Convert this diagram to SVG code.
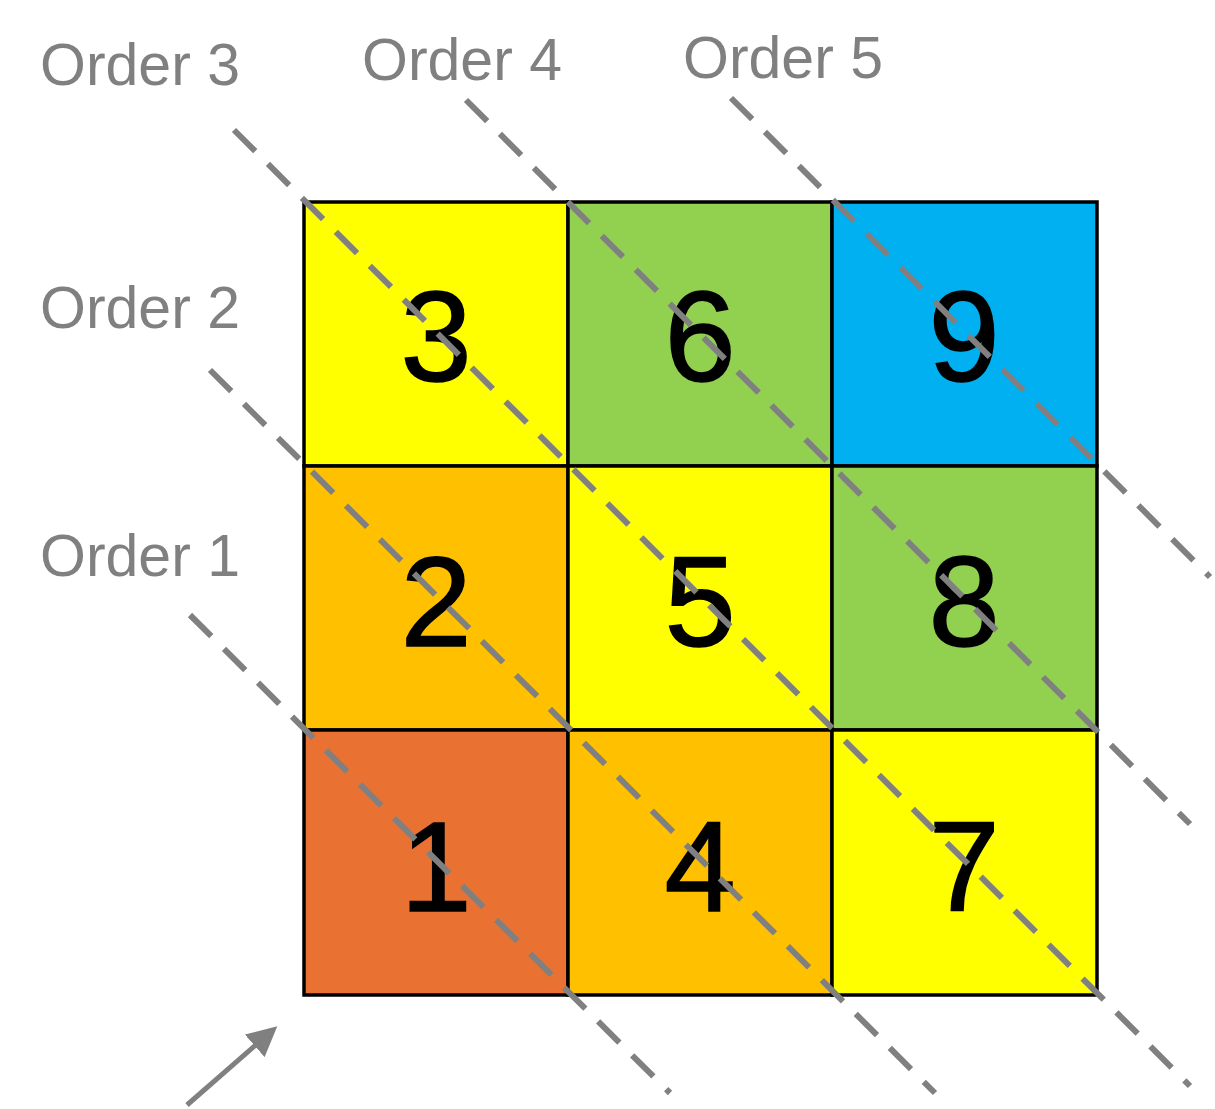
<svg xmlns="http://www.w3.org/2000/svg" width="1215" height="1109" viewBox="0 0 1215 1109">
<style>
.cell{stroke:#000;stroke-width:3.5}
.num{font-family:"Liberation Sans",Arial,sans-serif;font-size:128px;text-anchor:middle;fill:#000;stroke:#000;stroke-width:1.5}
.lbl{font-family:"Liberation Sans",Arial,sans-serif;font-size:59px;fill:#808080}
.dash{stroke:#808080;stroke-width:6;stroke-dasharray:30 18;fill:none}
</style>
<defs>
<marker id="ah" markerWidth="6" markerHeight="6" refX="3" refY="3" orient="auto" markerUnits="strokeWidth">
<path d="M0,0 L6,3 L0,6 Z" fill="#808080"/>
</marker>
</defs>
<rect width="1215" height="1109" fill="#fff"/>
<g id="cell-3"><rect class="cell" x="304" y="202" width="264" height="264" fill="#FFFF00"/><text class="num" x="436" y="381">3</text></g>
<g id="cell-6"><rect class="cell" x="568" y="202" width="264" height="264" fill="#92D050"/><text class="num" x="700" y="381">6</text></g>
<g id="cell-9"><rect class="cell" x="832" y="202" width="265" height="264" fill="#00B0F0"/><text class="num" x="964" y="381">9</text></g>
<g id="cell-2"><rect class="cell" x="304" y="466" width="264" height="264" fill="#FFC000"/><text class="num" x="436" y="646">2</text></g>
<g id="cell-5"><rect class="cell" x="568" y="466" width="264" height="264" fill="#FFFF00"/><text class="num" x="700" y="646">5</text></g>
<g id="cell-8"><rect class="cell" x="832" y="466" width="265" height="264" fill="#92D050"/><text class="num" x="964" y="646">8</text></g>
<g id="cell-1"><rect class="cell" x="304" y="730" width="264" height="265" fill="#E97132"/><text class="num" x="436" y="911">1</text></g>
<g id="cell-4"><rect class="cell" x="568" y="730" width="264" height="265" fill="#FFC000"/><text class="num" x="700" y="911">4</text></g>
<g id="cell-7"><rect class="cell" x="832" y="730" width="265" height="265" fill="#FFFF00"/><text class="num" x="964" y="911">7</text></g>
<g id="labels">
<text class="lbl" x="40" y="85">Order 3</text>
<text class="lbl" x="362" y="80">Order 4</text>
<text class="lbl" x="683" y="78">Order 5</text>
<text class="lbl" x="40" y="328">Order 2</text>
<text class="lbl" x="40" y="576">Order 1</text>
</g>
<g id="connectors">
<line class="dash" x1="190" y1="615" x2="670" y2="1093"/>
<line class="dash" x1="210" y1="370" x2="935" y2="1093"/>
<line class="dash" x1="234" y1="130" x2="1190" y2="1086"/>
<line class="dash" x1="466" y1="100" x2="1190" y2="824"/>
<line class="dash" x1="731" y1="98" x2="1210" y2="577"/>
<line x1="187" y1="1105" x2="266" y2="1036" stroke="#808080" stroke-width="5" marker-end="url(#ah)"/>
</g>
</svg>
